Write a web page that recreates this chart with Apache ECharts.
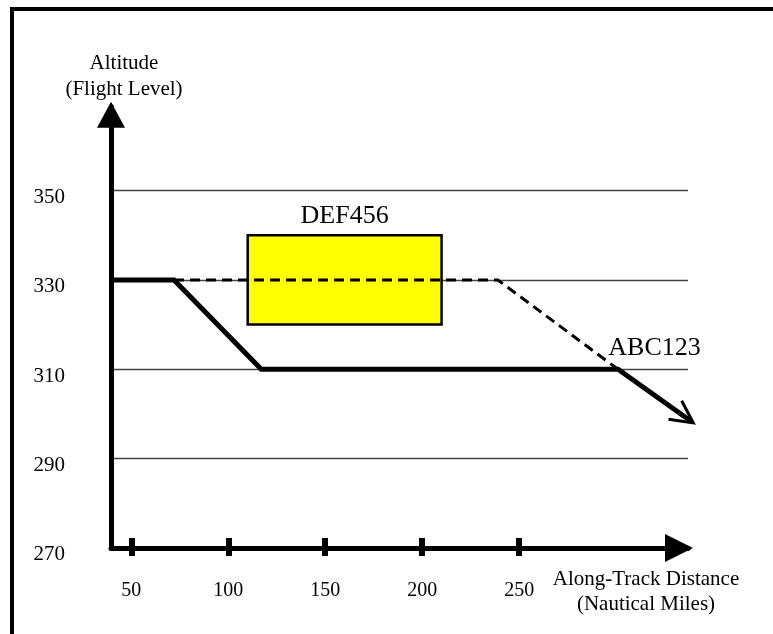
<!DOCTYPE html>
<html><head><meta charset="utf-8">
<script src="https://cdn.jsdelivr.net/npm/echarts@6/dist/echarts.min.js"></script>
<style>html,body{margin:0;padding:0;background:#fff}#c{width:773px;height:634px}</style>
</head><body><div id="c"></div>
<script>
// ---- data ----
const xTickValues = [50, 100, 150, 200, 250];
const yTickValues = [270, 290, 310, 330, 350];
const xRange = [39.5, 337.1];
const yRange = [270, 368.8];
// ABC123 actual (solid) trajectory
const abcDist = [39.5, 72, 117, 301, 339.8];
const abcAlt  = [330, 330, 310, 310, 298];
// planned (dashed) trajectory
const planDist = [72, 239, 301];
const planAlt  = [330, 330, 310];
// DEF456 block
const defDist = [110, 210];
const defAlt  = [320, 340];
const abcLabelAt = [296, 314.8];

const FONT = 'Liberation Serif';
const zip = (a, b) => a.map((v, i) => [v, b[i]]);
const n = abcDist.length;

const chart = echarts.init(document.getElementById('c'), null, {renderer: 'canvas'});
chart.setOption({
  animation: false,
  backgroundColor: '#fff',
  graphic: [{
    type: 'polyline', silent: true, z: 100,
    shape: {points: [[12, 650], [12, 9], [790, 9]]},
    style: {stroke: '#000', lineWidth: 4, fill: null, lineJoin: 'miter'}
  }],
  grid: {left: 111, right: 85, top: 106.7, bottom: 86.1, containLabel: false, outerBoundsMode: 'none'},
  xAxis: [{
    type: 'value', position: 'bottom', min: xRange[0], max: xRange[1],
    name: 'Along-Track Distance\n(Nautical Miles)', nameLocation: 'end', nameGap: -42,
    nameTextStyle: {fontFamily: FONT, fontSize: 21, color: '#000', lineHeight: 25,
      align: 'center', verticalAlign: 'top', padding: [19, 0, 0, 0]},
    axisLine: {show: true, symbol: ['none', 'triangle'], symbolSize: [28, 28], symbolOffset: [0, -9],
      lineStyle: {color: '#000', width: 5}},
    axisTick: {show: true, inside: false, length: 8, customValues: xTickValues,
      lineStyle: {color: '#000', width: 6}},
    axisLabel: {show: true, customValues: xTickValues, margin: 33, fontFamily: FONT, fontSize: 20, color: '#000'},
    splitLine: {show: false}
  }, {
    type: 'value', position: 'bottom', min: xRange[0], max: xRange[1],
    axisLine: {show: false},
    axisTick: {show: true, inside: true, length: 10, customValues: xTickValues,
      lineStyle: {color: '#000', width: 6}},
    axisLabel: {show: false},
    splitLine: {show: false}
  }],
  yAxis: {
    type: 'value', min: yRange[0], max: yRange[1],
    name: 'Altitude\n(Flight Level)', nameLocation: 'end', nameGap: 4,
    nameTextStyle: {fontFamily: FONT, fontSize: 21, color: '#000', lineHeight: 26,
      align: 'center', verticalAlign: 'bottom', padding: [0, 0, 0, 26]},
    axisLine: {show: true, symbol: ['none', 'triangle'], symbolSize: [28, 26], symbolOffset: [0, -8],
      lineStyle: {color: '#000', width: 5}},
    axisTick: {show: false, customValues: yTickValues},
    axisLabel: {show: true, customValues: yTickValues, margin: 46, fontFamily: FONT, fontSize: 21,
      color: '#000', verticalAlign: 'top', lineHeight: 14},
    splitLine: {show: true, showMinLine: false, showMaxLine: true, lineStyle: {color: '#444', width: 1.3}}
  },
  series: [{
    name: 'plan', type: 'line', data: zip(planDist, planAlt), symbol: 'none', z: 4, clip: false,
    lineStyle: {color: '#000', width: 3, type: [10, 6], join: 'miter'},
    markArea: {
      silent: true,
      itemStyle: {color: '#ffff00', borderColor: '#000', borderWidth: 2.5},
      label: {show: true, position: 'top', distance: 5, color: '#000', fontFamily: FONT, fontSize: 26},
      data: [[{name: 'DEF456', xAxis: defDist[0], yAxis: defAlt[1]}, {xAxis: defDist[1], yAxis: defAlt[0]}]]
    }
  }, {
    name: 'ABC123', type: 'line', data: zip(abcDist, abcAlt), symbol: 'none', z: 5, clip: false,
    lineStyle: {color: '#000', width: 5, join: 'miter'},
    markPoint: {
      silent: true, symbol: 'circle', symbolSize: 0,
      label: {show: true, position: 'right', distance: 0, formatter: '{b}', color: '#000', fontFamily: FONT, fontSize: 26},
      data: [{name: 'ABC123', coord: abcLabelAt}]
    }
  }, {
    name: 'arrowhead', type: 'custom', z: 6, silent: true, clip: false,
    data: [[abcDist[n - 2], abcAlt[n - 2], abcDist[n - 1], abcAlt[n - 1]]],
    encode: {x: [0, 2], y: [1, 3]},
    renderItem: function (params, api) {
      const p0 = api.coord([api.value(0), api.value(1)]);
      const p1 = api.coord([api.value(2), api.value(3)]);
      const ang = Math.atan2(p1[1] - p0[1], p1[0] - p0[0]);
      const L = 25, half = 27 * Math.PI / 180;
      const a1 = [p1[0] - L * Math.cos(ang - half), p1[1] - L * Math.sin(ang - half)];
      const a2 = [p1[0] - L * Math.cos(ang + half), p1[1] - L * Math.sin(ang + half)];
      return {type: 'polyline', shape: {points: [a1, p1, a2]},
        style: {stroke: '#000', lineWidth: 3, fill: null, lineJoin: 'miter'}};
    }
  }]
});
</script></body></html>
